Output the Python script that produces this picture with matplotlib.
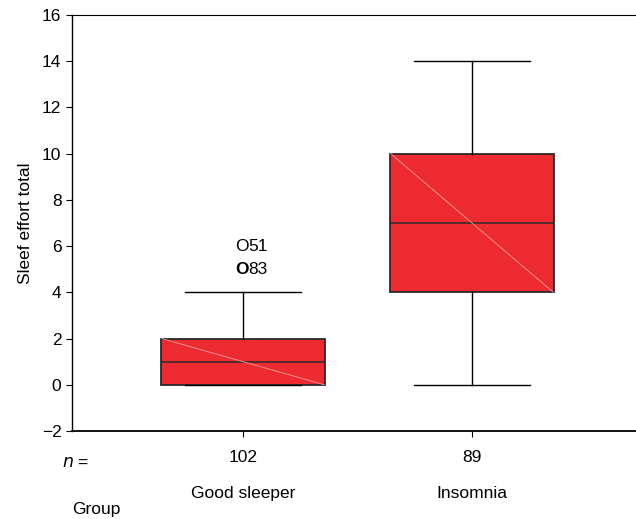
import matplotlib.pyplot as plt

plt.rcParams['font.family'] = ['Liberation Sans', 'DejaVu Sans']
FS = 12.5

# box statistics
groups = ['Good sleeper', 'Insomnia']
n_counts = ['102', '89']
q1 = [0, 4]
medians = [1, 7]
q3 = [2, 10]
whislo = [0, 0]
whishi = [4, 14]
outlier_vals = [6, 5]
outlier_ids = ['51', '83']

RED = '#EC2A2F'
EDGE = '#2a2a2a'

fig = plt.figure(figsize=(6.36, 5.19), dpi=100)
ax = fig.add_axes([0.113, 0.1696, 0.887, 0.8015])

stats = []
for i in range(len(groups)):
    stats.append(dict(med=medians[i], q1=q1[i], q3=q3[i],
                      whislo=whislo[i], whishi=whishi[i], fliers=[]))

pos = [1, 2]
ax.bxp(stats, positions=pos, widths=0.72, patch_artist=True, showfliers=False,
       boxprops=dict(facecolor=RED, edgecolor=EDGE, linewidth=1.3),
       medianprops=dict(color=EDGE, linewidth=1.1),
       whiskerprops=dict(color='black', linewidth=1.0),
       capprops=dict(color='black', linewidth=1.0),
       capwidths=0.51)

# faint diagonal shading line across each box
for p, lo, hi in zip(pos, q1, q3):
    ax.plot([p - 0.355, p + 0.355], [hi, lo], color='#f4a0a0', lw=0.6, zorder=3)

# outliers drawn SPSS-style as "O" followed by the case number
for v, lab in zip(outlier_vals, outlier_ids):
    ax.text(0.995, v, 'O', va='center', ha='center', fontsize=FS,
            fontweight='bold' if lab == '83' else 'normal')
    ax.text(1.024, v, lab, va='center', ha='left', fontsize=FS)

ax.set_ylim(-2, 16)
ax.set_xlim(0.253, 2.716)
ax.set_yticks(range(-2, 17, 2))
ax.set_xticks(pos)
ax.set_xticklabels(n_counts, fontsize=FS)
ax.tick_params(axis='x', length=4, pad=10)
ax.tick_params(axis='y', length=4, labelsize=FS)
ax.spines['right'].set_visible(False)
ax.spines['left'].set_linewidth(1.0)
ax.spines['bottom'].set_linewidth(1.3)
ax.set_ylabel('Sleef effort total', fontsize=FS, labelpad=6)

tr = ax.get_xaxis_transform()
ax.text(0.21, -0.075, r'$n$ =', transform=tr, fontsize=FS, va='center', ha='left')
for p, g in zip(pos, groups):
    ax.text(p, -0.15, g, transform=tr, fontsize=FS, va='center', ha='center')
fig.text(0.113, 0.019, 'Group', fontsize=FS, va='center', ha='left')

plt.savefig('out.png', dpi=100)
